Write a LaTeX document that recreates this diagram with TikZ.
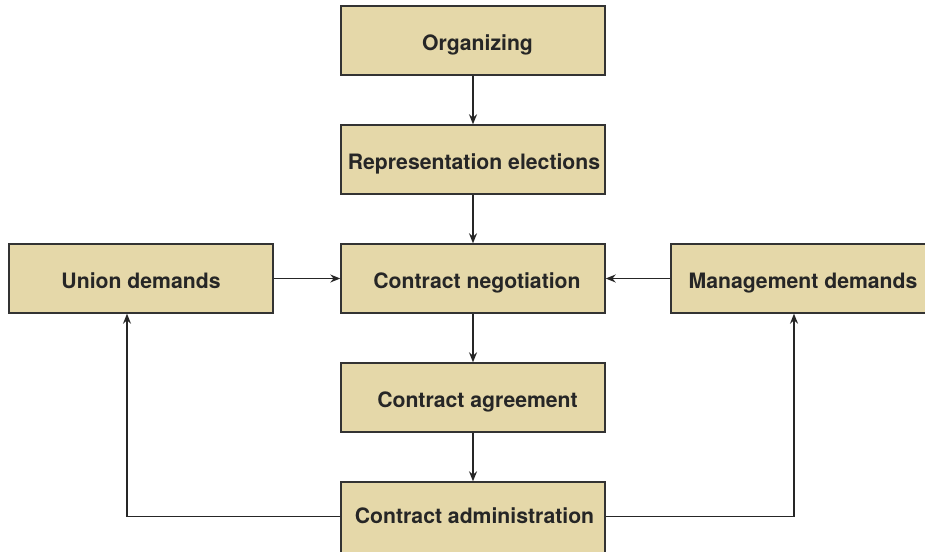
\documentclass[tikz,border=0pt]{standalone}
\usepackage{fontspec}
\setsansfont{TeX Gyre Heros}
\usetikzlibrary{arrows.meta}

\begin{document}
\begin{tikzpicture}[x=1pt,y=-1pt,
  font=\sffamily\bfseries\fontsize{21.2}{24}\selectfont,
  stagebox/.style={draw=black!80, line width=1.4pt, fill=boxfill, minimum width=264pt, minimum height=69pt, text=black!85, inner sep=0pt, text height=19pt, text depth=0pt},
  flow/.style={line width=1.3pt, draw=black!85, -{Stealth[length=10pt,width=8pt]}}]
\definecolor{boxfill}{HTML}{E5D8A9}
\useasboundingbox (0,0) rectangle (925,551);
\node[stagebox] (org) at (473,40.5) {\hspace*{9pt}Organizing};
\node[stagebox] (elect) at (473,159.5) {\hspace*{2pt}Representation elections};
\node[stagebox] (negot) at (473,278.5) {\hspace*{8pt}Contract negotiation};
\node[stagebox] (agree) at (473,397.5) {\hspace*{9pt}Contract agreement};
\node[stagebox, minimum height=80pt] (admin) at (473,522) {};
\node[text=black!85, inner sep=0pt, text height=19pt, text depth=0pt] (admintext) at (474.5,513.5) {Contract administration};
\node[stagebox] (union) at (141,278.5) {Union demands};
\node[stagebox] (mgmt) at (803,278.5) {Management demands};
\coordinate (uturn) at (127,516.5);
\coordinate (mturn) at (794,516.5);
\draw[flow] (org) -- (elect);
\draw[flow] (elect) -- (negot);
\draw[flow] (negot) -- (agree);
\draw[flow] (agree) -- (admin);
\draw[flow] (union) -- (negot);
\draw[flow] (mgmt) -- (negot);
\draw[flow] (admin.west |- uturn) -- (uturn) -- (uturn |- union.south);
\draw[flow] (admin.east |- mturn) -- (mturn) -- (mturn |- mgmt.south);
\end{tikzpicture}
\end{document}
